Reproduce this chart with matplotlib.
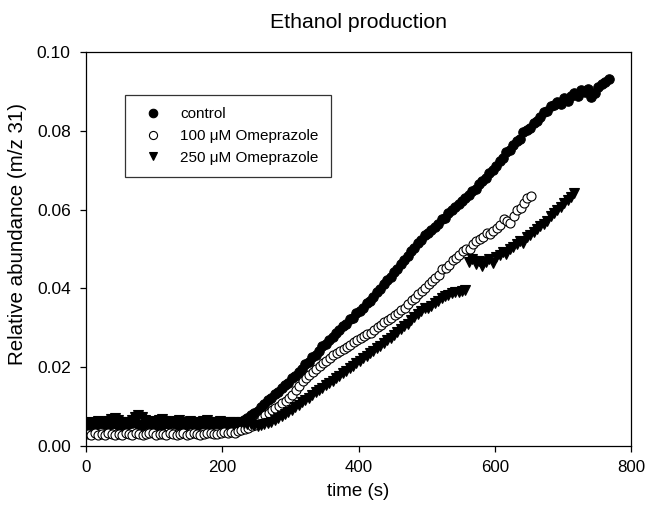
import numpy as np
import matplotlib
matplotlib.use("Agg")
import matplotlib.pyplot as plt

plt.rcParams['font.family'] = ['Liberation Sans', 'DejaVu Sans']

# m/z 31 signal, in units of 1e-3, sampled every 5 s
ctrl_flat = [5.4, 5.8, 5.2, 5.6, 6.0, 5.5, 5.3, 5.7, 5.9, 5.4,
             5.6, 5.1, 5.5, 5.8, 6.1, 5.6, 5.3, 5.5, 5.9, 5.7,
             5.2, 5.6, 5.4, 5.8, 5.5, 6.0, 5.7, 5.3, 5.6, 5.4,
             5.8, 5.5, 5.2, 5.6, 5.9, 5.7, 5.4, 5.5, 5.8, 5.6,
             5.3, 5.7, 5.5, 5.9, 6.0]
ctrl_rise = [6.2, 6.6, 7.2, 7.8, 8.4, 9.0, 10.0, 10.6, 11.6, 12.3,
             13.1, 13.6, 14.8, 15.4, 16.1, 17.2, 17.8, 18.9, 19.6, 20.8,
             21.3, 22.6, 23.2, 24.1, 25.3, 25.8, 27.0, 27.6, 28.8, 29.4,
             30.5, 31.0, 32.2, 32.6, 33.8, 34.3, 35.1, 36.2, 36.8, 37.9,
             39.2, 39.8, 41.0, 42.1, 42.9, 44.2, 45.0, 46.3, 47.2, 48.1,
             49.5, 50.2, 51.6, 52.4, 53.5, 54.0, 54.8, 55.6, 56.3, 57.5,
             57.9, 59.2, 59.8, 60.6, 61.4, 62.3, 63.0, 63.6, 64.8, 65.3,
             66.5, 67.2, 68.0, 69.3, 70.1, 71.0, 72.4, 73.1, 74.5, 75.2,
             76.3, 77.4, 78.0, 79.6, 80.2, 80.8, 82.1, 82.6, 83.5, 84.8,
             85.0, 86.2, 86.5, 87.4, 86.9, 88.2, 87.6, 88.9, 89.6, 88.8,
             90.3, 89.9, 90.6, 88.7, 89.5, 91.2, 91.8, 92.4, 93.1]

ome100_flat = [3.0, 2.7, 3.2, 2.9, 3.1, 2.8, 3.3, 3.0, 2.7, 3.1,
               2.9, 3.2, 3.0, 2.8, 3.3, 3.1, 2.9, 3.0, 3.4, 3.2,
               2.8, 3.0, 3.1, 2.9, 3.3, 3.0, 2.7, 3.1, 3.2, 2.9,
               3.0, 3.3, 3.1, 2.8, 3.0, 3.2, 3.4, 3.0, 3.1, 3.3,
               3.5, 3.2, 3.6, 3.4, 3.8]
ome100_rise = [4.0, 4.3, 4.6, 5.0, 5.4, 6.2, 7.0, 7.8, 8.5, 9.1,
               9.6, 10.2, 10.8, 11.4, 12.1, 13.0, 14.2, 15.3, 16.4, 17.2,
               18.0, 18.9, 19.6, 20.4, 21.0, 21.7, 22.3, 23.0, 23.6, 24.0,
               24.5, 25.2, 25.6, 26.3, 26.8, 27.3, 27.9, 28.4, 28.8, 29.5,
               30.1, 30.6, 31.4, 32.0, 32.6, 33.3, 33.8, 34.4, 35.0, 36.1,
               37.0, 37.6, 38.5, 39.4, 40.1, 41.0, 41.8, 42.7, 43.5, 44.8,
               45.3, 46.0, 47.2, 47.8, 48.6, 49.4, 50.1, 50.0, 51.2, 52.0,
               52.6, 53.1, 54.0, 53.8, 54.6, 55.4, 56.1, 57.5, 57.0, 56.6,
               58.3, 59.8, 60.5, 61.6, 62.9, 63.4]

ome250_flat = [5.6, 6.2, 5.9, 6.4, 6.0, 5.7, 6.3, 6.8, 7.2, 6.5,
               6.1, 5.8, 6.2, 6.6, 7.4, 7.9, 7.3, 6.5, 6.0, 6.3,
               6.1, 6.7, 6.9, 6.4, 6.0, 5.8, 6.3, 6.6, 6.2, 5.9,
               6.4, 6.1, 5.7, 6.0, 6.3, 6.5, 6.2, 5.9, 6.1, 6.4,
               6.0, 5.8, 6.2, 6.0, 5.9, 6.1, 5.8, 5.6, 5.5, 5.3,
               5.2, 5.4, 5.6, 5.9]
ome250_rise = [6.2, 6.6, 7.0, 7.6, 8.0, 8.6, 9.2, 9.8, 10.5, 11.2,
               11.8, 12.3, 12.9, 13.6, 14.1, 14.8, 15.4, 15.9, 16.6, 17.2,
               17.8, 18.5, 19.0, 19.8, 20.4, 21.0, 21.7, 22.3, 22.9, 23.6,
               24.2, 24.9, 25.4, 26.1, 26.8, 27.4, 28.1, 28.9, 29.6, 30.4,
               31.0, 31.9, 32.7, 33.5, 34.3, 34.9, 35.0, 35.6, 36.3, 36.8,
               37.5, 38.1, 38.4, 38.9, 39.2, 39.0, 39.4, 39.6, 46.8, 47.5,
               46.2, 47.0, 45.6, 46.8, 47.4, 46.5, 47.9, 48.6, 49.3, 48.8,
               50.1, 50.6, 51.2, 52.0, 51.6, 53.0, 53.6, 54.2, 55.1, 55.8,
               56.4, 57.2, 58.3, 59.1, 59.8, 60.7, 61.6, 62.4, 63.3, 64.2]

dt = 5.0
ctrl = np.array(ctrl_flat + ctrl_rise) / 1000
ome100 = np.array(ome100_flat + ome100_rise) / 1000
ome250 = np.array(ome250_flat + ome250_rise) / 1000
t_ctrl = 2 + dt * np.arange(len(ctrl))
t_100 = 3 + dt * np.arange(len(ome100))
t_250 = 2 + dt * np.arange(len(ome250))

labels = ["control", "100 \u03bcM Omeprazole", "250 \u03bcM Omeprazole"]

# axes box in pixels: left, right, top, bottom
L, R, T, B = 86, 631, 52, 446
fig = plt.figure(figsize=(6.46, 5.11), dpi=100)
ax = fig.add_axes([L/646, 1 - B/511, (R - L)/646, (B - T)/511])

ax.plot(t_ctrl, ctrl, 'o', ms=6.8, mfc='black', mec='black', mew=0.8, label=labels[0])
ax.plot(t_100, ome100, 'o', ms=6.5, mfc='white', mec='black', mew=0.8, label=labels[1])
ax.plot(t_250, ome250, 'v', ms=7, mfc='black', mec='black', mew=0.8, label=labels[2])

ax.set_xlim(0, 800)
ax.set_ylim(0, 0.10)
ax.set_xticks([0, 200, 400, 600, 800])
ax.set_yticks([0.00, 0.02, 0.04, 0.06, 0.08, 0.10])
ax.yaxis.set_major_formatter(matplotlib.ticker.FormatStrFormatter('%.2f'))
ax.tick_params(direction='out', length=4, width=0.9, labelsize=12.5)
ax.tick_params(axis='y', pad=7)
ax.tick_params(axis='x', pad=6, labelsize=12.2)
for sp in ax.spines.values():
    sp.set_linewidth(0.9)

ax.set_xlabel("time (s)", fontsize=13.5, va='center')
ax.xaxis.set_label_coords(0.5, (B - 492) / (B - T))
ax.set_ylabel("Relative abundance (m/z 31)", fontsize=14.8, va='center')
ax.yaxis.set_label_coords((18 - L) / (R - L), (B - 234) / (B - T))

fig.text((L + R) / 2 / 646, 1 - 22/511, "Ethanol production", fontsize=15.3,
         ha='center', va='center')

leg = ax.legend(loc='upper left', bbox_to_anchor=((125 - L)/(R - L), (B - 95)/(B - T)),
                borderaxespad=0, fontsize=11, fancybox=False, framealpha=1,
                edgecolor='#333333', borderpad=0.8, handlelength=2.0,
                handletextpad=0.8, labelspacing=0.5, markerscale=0.9)
leg.get_frame().set_linewidth(0.9)

plt.savefig("out.png", dpi=100)
